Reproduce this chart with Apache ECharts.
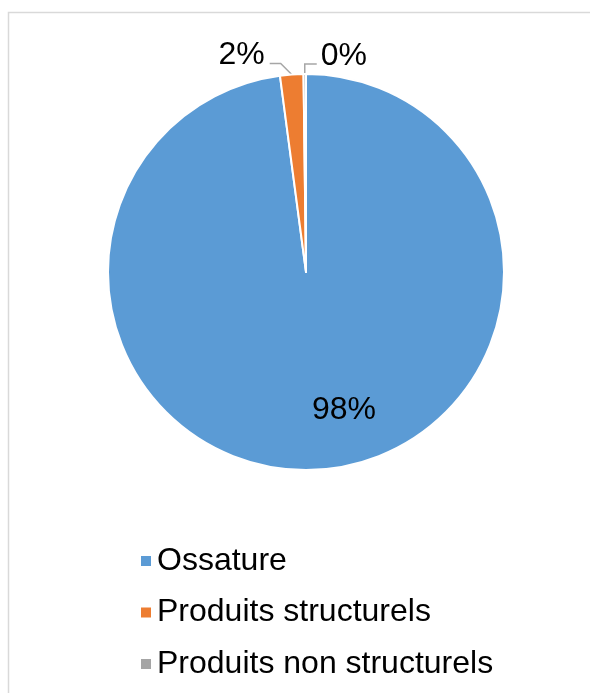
<!DOCTYPE html>
<html>
<head>
<meta charset="utf-8">
<style>
  html, body { margin: 0; padding: 0; background: #fff; }
  #chart { width: 590px; height: 693px; }
</style>
<script src="https://cdn.jsdelivr.net/npm/echarts@6/dist/echarts.min.js"></script>
</head>
<body>
<div id="chart"></div>
<script>
// Répartition par catégorie
const categories = ['Ossature', 'Produits structurels', 'Produits non structurels'];
const shares = [97.9, 1.9, 0.2];
const colors = ['#5b9bd5', '#ed7d31', '#a5a5a5'];

const FONT = '"Liberation Sans", Arial, sans-serif';

const chart = echarts.init(document.getElementById('chart'), null, { renderer: 'canvas' });

const total = shares.reduce((a, b) => a + b, 0);

// Leader lines: short elbow from the slice edge, then a horizontal run
function leaderLayout(params) {
  const i = params.dataIndex;
  if (i === 0) {
    return { x: 344, y: 410, align: 'center', verticalAlign: 'middle' };
  }
  const pts = params.labelLinePoints;
  if (!pts) return {};
  const p0 = pts[0];
  if (i === 1) {
    const p1 = [p0[0] - 11, p0[1] - 11];
    const p2 = [p1[0] - 11, p1[1]];
    return {
      x: p2[0] - 5, y: p2[1] - 8, align: 'right', verticalAlign: 'middle',
      labelLinePoints: [p0, p1, p2]
    };
  }
  const p1 = [p0[0], p0[1] - 10];
  const p2 = [p1[0] + 12, p1[1]];
  return {
    x: p2[0] + 4, y: p2[1] - 8, align: 'left', verticalAlign: 'middle',
    labelLinePoints: [p0, p1, p2]
  };
}

chart.setOption({
  animation: false,
  backgroundColor: '#fff',
  color: colors,
  graphic: [{
    type: 'rect',
    shape: { x: 8.5, y: 12.5, width: 620, height: 720 },
    style: { fill: 'none', stroke: '#d9d9d9', lineWidth: 1.5 },
    silent: true,
    z: -1
  }],
  legend: {
    orient: 'vertical',
    left: 134,
    top: 540,
    icon: 'rect',
    itemWidth: 12,
    itemHeight: 12,
    itemGap: 19.5,
    selectedMode: false,
    textStyle: { fontFamily: FONT, fontSize: 32, lineHeight: 32, color: '#000' },
    data: categories
  },
  series: [{
    type: 'pie',
    center: [306, 272],
    radius: [0, 198],
    startAngle: 90,
    clockwise: true,
    avoidLabelOverlap: false,
    itemStyle: { borderColor: '#fff', borderWidth: 2 },
    label: {
      show: true,
      position: 'outside',
      fontFamily: FONT,
      fontSize: 32,
      color: '#000',
      formatter: p => Math.round(p.value / total * 100) + '%'
    },
    labelLine: {
      show: true,
      length: 12,
      length2: 11,
      lineStyle: { color: '#a6a6a6', width: 1.5 }
    },
    labelLayout: leaderLayout,
    data: categories.map((name, i) => ({ name: name, value: shares[i] }))
  }]
});
</script>
</body>
</html>
